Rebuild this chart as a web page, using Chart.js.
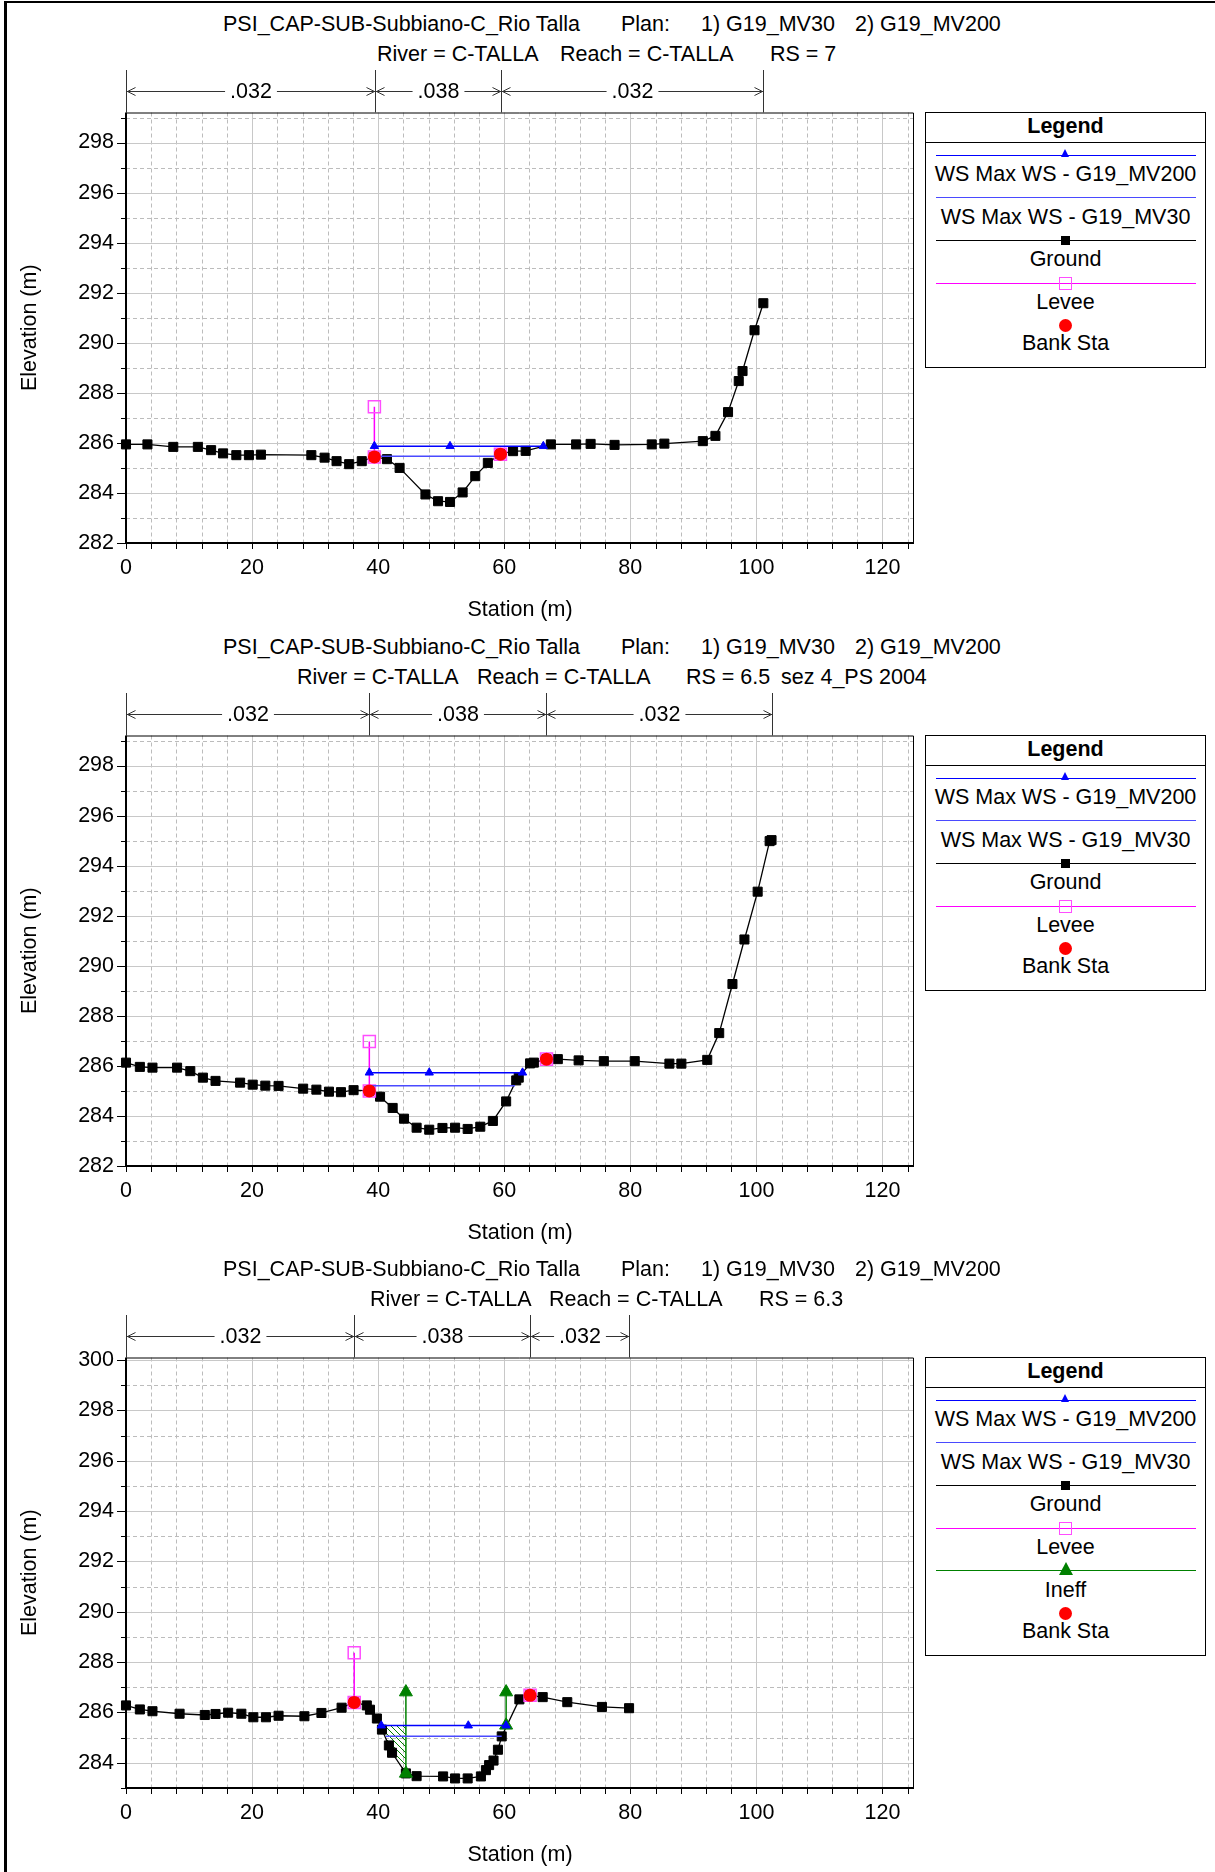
<!DOCTYPE html>
<html>
<head>
<meta charset="utf-8">
<title>C-TALLA cross sections</title>
<script src="https://cdn.jsdelivr.net/npm/chart.js"></script>
<style>
  html, body { margin: 0; padding: 0; background: #fff; }
  body { width: 1215px; height: 1872px; position: relative; overflow: hidden;
         font-family: "Liberation Sans", Arial, Helvetica, sans-serif; color: #000; }
  .frame-left { position: absolute; left: 4px; top: 1px; width: 3px; height: 1871px; background: #000; }
  .frame-top { position: absolute; left: 4px; top: 1px; width: 1211px; height: 2px; background: #000; }
  .panel { position: absolute; left: 0; width: 1215px; height: 623px; }
  .panel canvas { position: absolute; left: 0; top: 0; }
  .t { position: absolute; font-size: 21.5px; line-height: 24px; white-space: pre; }
  .legend { position: absolute; left: 925px; top: 112px; width: 281px; border: 1px solid #000;
            box-sizing: border-box; background: #fff; }
  .lg-head { height: 29px; border-bottom: 1px solid #000; text-align: center; font-weight: bold;
             font-size: 21.5px; line-height: 26px; }
  .lg-line { position: absolute; left: 10px; width: 260px; height: 1px; }
  .lg-text { position: absolute; left: 0; width: 279px; text-align: center; font-size: 21.5px;
             line-height: 24px; height: 24px; white-space: nowrap; }
  .mk { position: absolute; box-sizing: border-box; }
</style>
</head>
<body>
<div class="frame-left"></div>
<div class="frame-top"></div>

<script>
const FONT = '"Liberation Sans", Arial, Helvetica, sans-serif';
const FONT_SIZE = 21.5;

// shared axis labels
const xTicks = [0, 20, 40, 60, 80, 100, 120];
const planLine = ['PSI_CAP-SUB-Subbiano-C_Rio Talla', 'Plan:', '1) G19_MV30', '2) G19_MV200'];

// ---- RS = 7 ----
const rs7Line = ['River = C-TALLA', 'Reach = C-TALLA', 'RS = 7'];
const yTicks7 = [282, 284, 286, 288, 290, 292, 294, 296, 298];
const sta7 = [0, 3.4, 7.5, 11.4, 13.5, 15.4, 17.5, 19.5, 21.4, 29.4, 31.5, 33.4, 35.4, 37.4, 39.4,
  41.4, 43.4, 47.5, 49.5, 51.4, 53.4, 55.4, 57.4, 59.4, 61.4, 63.4, 67.4, 71.4, 73.7, 77.5, 83.4,
  85.4, 91.5, 93.5, 95.5, 97.2, 97.8, 99.7, 101.1];
const elev7 = [285.94, 285.94, 285.84, 285.84, 285.71, 285.58, 285.51, 285.51, 285.53, 285.51, 285.41,
  285.27, 285.15, 285.27, 285.44, 285.35, 285.0, 283.94, 283.67, 283.64, 284.02, 284.67, 285.2, 285.55,
  285.67, 285.68, 285.94, 285.94, 285.96, 285.92, 285.94, 285.97, 286.07, 286.28, 287.23, 288.47,
  288.87, 290.5, 291.58];
const ws200Sta7 = [39.4, 51.4, 66.2];
const ws200Elev7 = [285.87, 285.87, 285.87];
const ws30Sta7 = [39.4, 59.4];
const ws30Elev7 = [285.47, 285.47];
const leveeSta7 = [39.4, 39.4, 49.4, 59.4];
const leveeElev7 = [287.44, 285.44, null, 285.55];
const bankSta7 = [39.4, 59.4];
const bankElev7 = [285.44, 285.55];
const nBreaks7 = [0, 39.5, 59.5, 101];
const nValues7 = ['.032', '.038', '.032'];

// ---- RS = 6.5 ----
const rs65Line = ['River = C-TALLA', 'Reach = C-TALLA', 'RS = 6.5', 'sez 4_PS 2004'];
const yTicks65 = [282, 284, 286, 288, 290, 292, 294, 296, 298];
const sta65 = [0, 2.2, 4.2, 8.1, 10.2, 12.2, 14.2, 18.1, 20.1, 22.1, 24.2, 28.1, 30.2, 32.2, 34.1,
  36.1, 38.6, 40.3, 42.3, 44.1, 46.1, 48.1, 50.2, 52.2, 54.2, 56.2, 58.2, 60.3, 61.9, 62.3, 64.1,
  64.7, 66.7, 68.5, 71.8, 75.8, 80.7, 86.2, 88.1, 92.2, 94.1, 96.2, 98.1, 100.2, 102.1, 102.4];
const elev65 = [286.13, 285.96, 285.93, 285.93, 285.79, 285.53, 285.4, 285.33, 285.25, 285.21, 285.2,
  285.09, 285.05, 284.97, 284.95, 285.03, 285.0, 284.77, 284.32, 283.89, 283.53, 283.45, 283.52,
  283.53, 283.48, 283.57, 283.8, 284.58, 285.42, 285.53, 286.1, 286.13, 286.27, 286.27, 286.22,
  286.19, 286.19, 286.09, 286.09, 286.24, 287.31, 289.27, 291.05, 292.96, 294.98, 295.02];
const ws200Sta65 = [38.6, 48.1, 62.9];
const ws200Elev65 = [285.73, 285.73, 285.73];
const ws30Sta65 = [38.6, 61.7];
const ws30Elev65 = [285.21, 285.21];
const leveeSta65 = [38.6, 38.6, 52.6, 66.7];
const leveeElev65 = [286.97, 285.0, null, 286.27];
const bankSta65 = [38.6, 66.7];
const bankElev65 = [285.0, 286.27];
const nBreaks65 = [0, 38.6, 66.7, 102.4];
const nValues65 = ['.032', '.038', '.032'];

// ---- RS = 6.3 ----
const rs63Line = ['River = C-TALLA', 'Reach = C-TALLA', 'RS = 6.3'];
const yTicks63 = [284, 286, 288, 290, 292, 294, 296, 298, 300];
const sta63 = [0, 2.2, 4.2, 8.5, 12.5, 14.2, 16.2, 18.3, 20.2, 22.2, 24.2, 28.3, 31.0, 34.2, 36.2,
  38.2, 38.7, 39.8, 40.6, 41.7, 42.2, 44.4, 46.1, 50.3, 52.2, 54.2, 56.3, 57.1, 57.6, 58.3, 59.0,
  59.6, 62.4, 64.1, 66.1, 70.0, 75.5, 79.8];
const elev63 = [286.28, 286.12, 286.05, 285.95, 285.9, 285.94, 285.99, 285.95, 285.81, 285.81, 285.87,
  285.85, 285.98, 286.19, 286.4, 286.28, 286.11, 285.76, 285.32, 284.69, 284.4, 283.58, 283.47,
  283.46, 283.38, 283.38, 283.46, 283.71, 283.91, 284.09, 284.52, 285.05, 286.52, 286.68, 286.61,
  286.41, 286.22, 286.17];
const ws200Sta63 = [40.5, 54.3, 60.3];
const ws200Elev63 = [285.48, 285.48, 285.48];
const ws30Sta63 = [41.2, 59.6];
const ws30Elev63 = [285.06, 285.06];
const leveeSta63 = [36.2, 36.2, 50.2, 64.1];
const leveeElev63 = [288.37, 286.4, null, 286.68];
const bankSta63 = [36.2, 64.1];
const bankElev63 = [286.4, 286.68];
const ineffSta63 = [44.4, 44.4, 52.3, 60.3, 60.3];
const ineffElev63 = [286.81, 283.58, null, 286.81, 285.49];
const hatchSta63 = [40.5, 44.4, 44.4, 42.2, 41.7, 40.6];
const hatchElev63 = [285.48, 285.48, 283.58, 284.4, 284.69, 285.32];
const nBreaks63 = [0, 36.2, 64.1, 79.8];
const nValues63 = ['.032', '.038', '.032'];

const legendBase = ['WS Max WS - G19_MV200', 'WS Max WS - G19_MV30', 'Ground', 'Levee', 'Bank Sta'];
const legend63 = ['WS Max WS - G19_MV200', 'WS Max WS - G19_MV30', 'Ground', 'Levee', 'Ineff', 'Bank Sta'];

const panels = [
  { top: 0, line2: rs7Line, line2Left: [377, 560, 770], yMin: 282, yMax: 299.2, yTicks: yTicks7,
    ground: [sta7, elev7], ws200: [ws200Sta7, ws200Elev7], ws30: [ws30Sta7, ws30Elev7],
    levee: [leveeSta7, leveeElev7], bank: [bankSta7, bankElev7],
    nBreaks: nBreaks7, nValues: nValues7, legend: legendBase },
  { top: 623, line2: rs65Line, line2Left: [297, 477, 686, 781], yMin: 282, yMax: 299.2, yTicks: yTicks65,
    ground: [sta65, elev65], ws200: [ws200Sta65, ws200Elev65], ws30: [ws30Sta65, ws30Elev65],
    levee: [leveeSta65, leveeElev65], bank: [bankSta65, bankElev65],
    nBreaks: nBreaks65, nValues: nValues65, legend: legendBase },
  { top: 1245, line2: rs63Line, line2Left: [370, 549, 759], yMin: 283, yMax: 300.1, yTicks: yTicks63,
    ground: [sta63, elev63], ws200: [ws200Sta63, ws200Elev63], ws30: [ws30Sta63, ws30Elev63],
    levee: [leveeSta63, leveeElev63], bank: [bankSta63, bankElev63],
    ineff: [ineffSta63, ineffElev63], hatch: [hatchSta63, hatchElev63],
    nBreaks: nBreaks63, nValues: nValues63, legend: legend63 }
];
const planLeft = [223, 621, 701, 855];

// legend look for each series
const legendStyles = {
  'WS Max WS - G19_MV200': { line: '#0000ff', marker: 'tri-blue' },
  'WS Max WS - G19_MV30': { line: '#4a4aff' },
  'Ground': { line: '#000', marker: 'square' },
  'Levee': { line: '#ff00ff', marker: 'levee' },
  'Ineff': { line: '#008000', marker: 'tri-green' },
  'Bank Sta': { marker: 'dot' }
};

function pts(xs, ys) {
  return xs.map((v, i) => ({ x: v, y: ys[i] }));
}

function hatchPattern() {
  const c = document.createElement('canvas');
  c.width = 6; c.height = 6;
  const g = c.getContext('2d');
  g.strokeStyle = '#008000';
  g.lineWidth = 1;
  g.beginPath();
  g.moveTo(0, 0); g.lineTo(6, 6);
  g.moveTo(-1, 5); g.lineTo(1, 7);
  g.moveTo(5, -1); g.lineTo(7, 1);
  g.stroke();
  return g.createPattern(c, 'repeat');
}

// grid: dashed every 4 m / 1 m, solid every 20 m / 2 m, plus ticks and frame
const gridPlugin = {
  id: 'sectionGrid',
  beforeDatasetsDraw(chart) {
    const { ctx, chartArea: a, scales: { x, y } } = chart;
    const X = v => Math.round(x.getPixelForValue(v)) + 0.5;
    const Y = v => Math.round(y.getPixelForValue(v)) + 0.5;
    ctx.save();
    ctx.lineWidth = 1;
    ctx.strokeStyle = '#bcbcbc';
    ctx.setLineDash([4, 3]);
    ctx.beginPath();
    for (let s = 4; s < x.max; s += 4) {
      if (s % 20) { ctx.moveTo(X(s), a.top); ctx.lineTo(X(s), a.bottom); }
    }
    for (let e = Math.ceil(y.min); e < y.max; e++) {
      if (e % 2 && e > y.min) { ctx.moveTo(a.left, Y(e)); ctx.lineTo(a.right, Y(e)); }
    }
    ctx.stroke();

    ctx.setLineDash([]);
    ctx.strokeStyle = '#c8c8c8';
    ctx.beginPath();
    for (let s = 20; s < x.max; s += 20) { ctx.moveTo(X(s), a.top); ctx.lineTo(X(s), a.bottom); }
    for (let e = Math.ceil(y.min); e < y.max; e++) {
      if (e % 2 === 0 && e > y.min) { ctx.moveTo(a.left, Y(e)); ctx.lineTo(a.right, Y(e)); }
    }
    ctx.stroke();

    ctx.strokeStyle = '#000';
    ctx.beginPath();
    for (let s = 0; s <= x.max; s += 4) { ctx.moveTo(X(s), a.bottom); ctx.lineTo(X(s), a.bottom + 6); }
    for (let e = Math.ceil(y.min); e <= y.max; e++) {
      const len = e % 2 ? 5 : 9;
      ctx.moveTo(a.left - len, Y(e)); ctx.lineTo(a.left, Y(e));
    }
    ctx.moveTo(a.left, a.top + 0.5); ctx.lineTo(a.right - 0.5, a.top + 0.5); ctx.lineTo(a.right - 0.5, a.bottom);
    ctx.stroke();

    ctx.lineWidth = 2;
    ctx.beginPath();
    ctx.moveTo(a.left, a.top); ctx.lineTo(a.left, a.bottom); ctx.lineTo(a.right, a.bottom);
    ctx.stroke();
    ctx.restore();
  }
};

// Manning's n bands above the plot
const nBarPlugin = {
  id: 'nBar',
  afterDraw(chart, args, opts) {
    const { ctx, chartArea, scales: { x } } = chart;
    const yLine = 91.5, yTop = 70;
    ctx.save();
    ctx.strokeStyle = '#333';
    ctx.lineWidth = 1;
    ctx.font = FONT_SIZE + 'px ' + FONT;
    ctx.fillStyle = '#000';
    ctx.textAlign = 'center';
    ctx.textBaseline = 'middle';
    const px = opts.breaks.map(b => Math.round(x.getPixelForValue(b)) + 0.5);
    ctx.beginPath();
    px.forEach(p => { ctx.moveTo(p, yTop); ctx.lineTo(p, chartArea.top); });
    for (let i = 0; i < opts.labels.length; i++) {
      const l = px[i], r = px[i + 1], mid = (l + r) / 2;
      const half = ctx.measureText(opts.labels[i]).width / 2 + 5;
      ctx.moveTo(l, yLine); ctx.lineTo(mid - half, yLine);
      ctx.moveTo(mid + half, yLine); ctx.lineTo(r, yLine);
      ctx.moveTo(l + 9, yLine - 4); ctx.lineTo(l + 1, yLine); ctx.lineTo(l + 9, yLine + 4);
      ctx.moveTo(r - 9, yLine - 4); ctx.lineTo(r - 1, yLine); ctx.lineTo(r - 9, yLine + 4);
    }
    ctx.stroke();
    opts.labels.forEach((t, i) => ctx.fillText(t, (px[i] + px[i + 1]) / 2, yLine + 1));
    ctx.restore();
  }
};

function addText(parent, text, left, top) {
  const s = document.createElement('div');
  s.className = 't';
  s.textContent = text;
  s.style.left = left + 'px';
  s.style.top = top + 'px';
  parent.appendChild(s);
}

function addMarker(box, kind, cy) {
  const m = document.createElement('div');
  m.className = 'mk';
  const cx = 139.5;
  if (kind === 'tri-blue') {
    Object.assign(m.style, { width: '0', height: '0', borderLeft: '4.5px solid transparent',
      borderRight: '4.5px solid transparent', borderBottom: '8px solid #0000ff',
      left: (cx - 4.5) + 'px', top: (cy - 6.5) + 'px' });
  } else if (kind === 'tri-green') {
    Object.assign(m.style, { width: '0', height: '0', borderLeft: '7px solid transparent',
      borderRight: '7px solid transparent', borderBottom: '13px solid #008000',
      left: (cx - 7) + 'px', top: (cy - 8.5) + 'px' });
  } else if (kind === 'square') {
    Object.assign(m.style, { width: '9px', height: '9px', background: '#000',
      left: (cx - 4.5) + 'px', top: (cy - 4.5) + 'px' });
  } else if (kind === 'levee') {
    Object.assign(m.style, { width: '13px', height: '13px', border: '1.5px solid #ff4dff',
      left: (cx - 6.5) + 'px', top: (cy - 6.5) + 'px' });
  } else if (kind === 'dot') {
    Object.assign(m.style, { width: '13px', height: '13px', borderRadius: '50%', background: '#ff0000',
      left: (cx - 6.5) + 'px', top: (cy - 6.5) + 'px' });
  }
  box.appendChild(m);
}

function buildLegend(parent, names) {
  const box = document.createElement('div');
  box.className = 'legend';
  box.style.height = (42.5 + names.length * 42.7) + 'px';
  box.innerHTML = '<div class="lg-head">Legend</div>';
  names.forEach((name, i) => {
    const st = legendStyles[name];
    const lineY = 42 + i * 42.7;
    if (st.line) {
      const ln = document.createElement('div');
      ln.className = 'lg-line';
      ln.style.top = (lineY - 0.5) + 'px';
      ln.style.background = st.line;
      box.appendChild(ln);
    }
    if (st.marker) addMarker(box, st.marker, lineY);
    const tx = document.createElement('div');
    tx.className = 'lg-text';
    tx.textContent = name;
    tx.style.top = (lineY + (st.line ? 19 : 17.5) - 12) + 'px';
    box.appendChild(tx);
  });
  parent.appendChild(box);
}

panels.forEach(p => {
  const panel = document.createElement('div');
  panel.className = 'panel';
  panel.style.top = p.top + 'px';
  document.body.appendChild(panel);

  planLine.forEach((t, i) => addText(panel, t, planLeft[i], 12));
  p.line2.forEach((t, i) => addText(panel, t, p.line2Left[i], 42));

  const canvas = document.createElement('canvas');
  canvas.width = 920;
  canvas.height = 623;
  panel.appendChild(canvas);

  const datasets = [
    { label: 'Bank Sta', data: pts(...p.bank), showLine: false, pointStyle: 'circle', pointRadius: 6.5,
      pointBackgroundColor: '#ff0000', pointBorderColor: '#ff0000', pointBorderWidth: 0 },
    { label: 'WS Max WS - G19_MV200', data: pts(...p.ws200), showLine: true, borderColor: '#0000ff',
      borderWidth: 1.5, pointStyle: 'triangle', pointRadius: 4.8, pointBackgroundColor: '#0000ff',
      pointBorderColor: '#0000ff', pointBorderWidth: 1 },
    { label: 'WS Max WS - G19_MV30', data: pts(...p.ws30), showLine: true, borderColor: '#4a4aff',
      borderWidth: 1.5, pointRadius: 0 }
  ];
  if (p.ineff) {
    datasets.push({ label: 'Ineff', data: pts(...p.ineff), showLine: true, borderColor: '#008000',
      borderWidth: 1.5, pointStyle: 'triangle', pointRadius: 7.5, pointBackgroundColor: '#008000',
      pointBorderColor: '#008000', pointBorderWidth: 1 });
  }
  datasets.push(
    { label: 'Levee', data: pts(...p.levee), showLine: true, borderColor: '#ff00ff', borderWidth: 1.5,
      pointStyle: 'rect', pointRadius: 8.5, pointBackgroundColor: 'rgba(0,0,0,0)',
      pointBorderColor: '#ff4dff', pointBorderWidth: 1.5 },
    { label: 'Ground', data: pts(...p.ground), showLine: true, borderColor: '#000', borderWidth: 1.3,
      pointStyle: 'rect', pointRadius: 6.4, pointBackgroundColor: '#000', pointBorderColor: '#000',
      pointBorderWidth: 1 }
  );
  if (p.hatch) {
    datasets.push({ label: 'Ineff area', data: pts(...p.hatch), showLine: true, borderWidth: 0,
      borderColor: 'rgba(0,0,0,0)', pointRadius: 0, fill: 'shape', backgroundColor: hatchPattern() });
  }
  datasets.forEach(d => { d.clip = false; d.tension = 0; });

  new Chart(canvas, {
    type: 'scatter',
    data: { datasets },
    options: {
      responsive: false,
      animation: false,
      events: [],
      layout: { autoPadding: false, padding: { top: 112.5, right: 6, left: 0, bottom: 0 } },
      plugins: {
        legend: { display: false },
        tooltip: { enabled: false },
        nBar: { breaks: p.nBreaks, labels: p.nValues }
      },
      scales: {
        x: {
          type: 'linear', min: 0, max: 125,
          grid: { display: false, drawTicks: false },
          border: { display: false },
          afterBuildTicks: s => { s.ticks = xTicks.map(v => ({ value: v })); },
          afterFit: s => { s.height = 80; s.paddingLeft = 0; s.paddingRight = 0; },
          ticks: { padding: 12, color: '#000', font: { family: FONT, size: FONT_SIZE }, autoSkip: false, maxRotation: 0 },
          title: { display: true, text: 'Station (m)', color: '#000', font: { family: FONT, size: FONT_SIZE },
                   padding: { top: 0, bottom: 0.5 } }
        },
        y: {
          type: 'linear', min: p.yMin, max: p.yMax,
          grid: { display: false, drawTicks: false },
          border: { display: false },
          afterBuildTicks: s => { s.ticks = p.yTicks.map(v => ({ value: v })); },
          afterFit: s => { s.width = 126; },
          ticks: { padding: 12, color: '#000', font: { family: FONT, size: FONT_SIZE }, autoSkip: false },
          title: { display: true, text: 'Elevation (m)', color: '#000', font: { family: FONT, size: FONT_SIZE },
                   padding: { top: 17.5, bottom: 0 } }
        }
      }
    },
    plugins: [gridPlugin, nBarPlugin]
  });

  buildLegend(panel, p.legend);
});
</script>
</body>
</html>
